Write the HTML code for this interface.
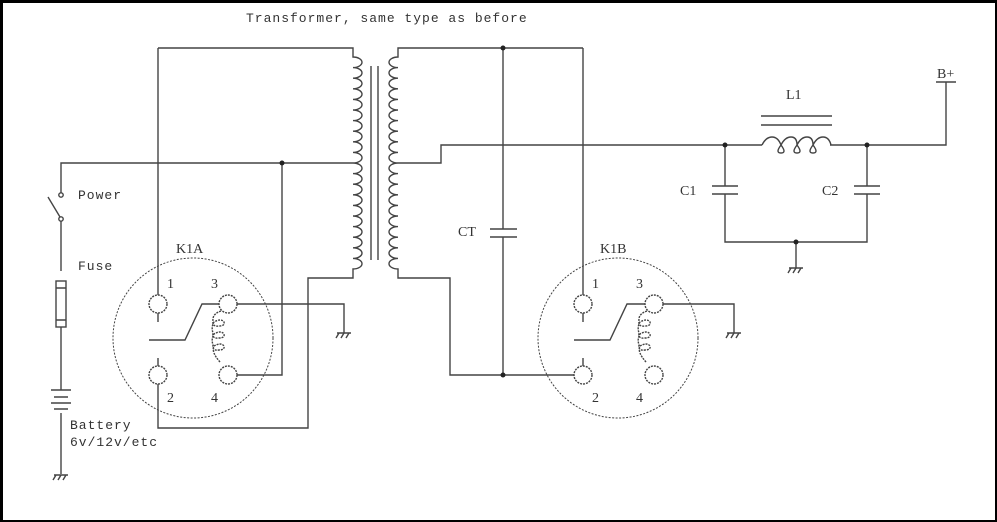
<!DOCTYPE html>
<html><head><meta charset="utf-8"><style>
html,body{margin:0;padding:0;background:#fff}
svg{display:block}
.m{font-family:"Liberation Mono",monospace;font-size:13px;letter-spacing:1px;fill:#333}
.s{font-family:"Liberation Serif",serif;font-size:14px;fill:#333}
</style></head><body>
<svg width="997" height="522" viewBox="0 0 997 522" xmlns="http://www.w3.org/2000/svg">
<rect x="0" y="0" width="997" height="522" fill="#000"/>
<rect x="3" y="3" width="992" height="517" fill="#fff"/>
<g fill="none" stroke="#444" stroke-width="1.4">
<path d="M158 48 H353 V57 a9 5.3 0 0 1 0 10.6 a9 5.3 0 0 1 0 10.6 a9 5.3 0 0 1 0 10.6 a9 5.3 0 0 1 0 10.6 a9 5.3 0 0 1 0 10.6 a9 5.3 0 0 1 0 10.6 a9 5.3 0 0 1 0 10.6 a9 5.3 0 0 1 0 10.6 a9 5.3 0 0 1 0 10.6 a9 5.3 0 0 1 0 10.6 a9 5.3 0 0 1 0 10.6 a9 5.3 0 0 1 0 10.6 a9 5.3 0 0 1 0 10.6 a9 5.3 0 0 1 0 10.6 a9 5.3 0 0 1 0 10.6 a9 5.3 0 0 1 0 10.6 a9 5.3 0 0 1 0 10.6 a9 5.3 0 0 1 0 10.6 a9 5.3 0 0 1 0 10.6 a9 5.3 0 0 1 0 10.6 V278 H308 V428 H158 V384"/>
<path d="M583 48 H398 V57 a9 5.3 0 0 0 0 10.6 a9 5.3 0 0 0 0 10.6 a9 5.3 0 0 0 0 10.6 a9 5.3 0 0 0 0 10.6 a9 5.3 0 0 0 0 10.6 a9 5.3 0 0 0 0 10.6 a9 5.3 0 0 0 0 10.6 a9 5.3 0 0 0 0 10.6 a9 5.3 0 0 0 0 10.6 a9 5.3 0 0 0 0 10.6 a9 5.3 0 0 0 0 10.6 a9 5.3 0 0 0 0 10.6 a9 5.3 0 0 0 0 10.6 a9 5.3 0 0 0 0 10.6 a9 5.3 0 0 0 0 10.6 a9 5.3 0 0 0 0 10.6 a9 5.3 0 0 0 0 10.6 a9 5.3 0 0 0 0 10.6 a9 5.3 0 0 0 0 10.6 a9 5.3 0 0 0 0 10.6 V278 H450 V375 H574"/>
<path d="M371 66 V260 M378 66 V260"/>
<path d="M353 163 H61 V193 M61 221 V271 M61 327 V390 M61 413 V474"/>
<path d="M282 163 V375 H237"/>
<path d="M158 48 V295 M158 313 V322"/>
<path d="M158 358 V366"/>
<circle cx="61" cy="195" r="2.2"/><circle cx="61" cy="219" r="2.2"/>
<path d="M48 197 L60 217"/>
<rect x="56" y="281" width="10" height="46"/><path d="M56 288 H66 M56 320 H66"/>
<path d="M51 390 H71 M54 397 H68 M51 403 H71 M54 409 H68"/>
<path d="M398 163 H441 V145 H762 M830 145 H946 V82 M936 82 H956"/>
<path d="M761 116 H832 M761 125 H832"/>
<path d="M762 145 q4 -8 10 -8 q6 0 9 8 q-6 8 0 8 q6 0 0 -8 q4 -8 10 -8 q6 0 6 8 q-6 8 0 8 q6 0 0 -8 q4 -8 10 -8 q6 0 6 8 q-6 8 0 8 q6 0 0 -8 q4 -8 10 -8 q6 0 8 8"/>
<path d="M725 145 V186 M712 186 H738 M712 194 H738 M725 194 V242 H867 V194 M854 186 H880 M854 194 H880 M867 186 V145"/>
<path d="M796 242 V268 M789 268 H803"/>
<path d="M503 48 V229 M490 229 H517 M490 237 H517 M503 237 V375"/>
<path d="M583 48 V295 M583 313 V322 M583 358 V366"/>
<circle cx="158" cy="304" r="9" stroke-dasharray="2 1"/>
<circle cx="158" cy="375" r="9" stroke-dasharray="2 1"/>
<circle cx="228" cy="304" r="9" stroke-dasharray="2 1"/>
<circle cx="228" cy="375" r="9" stroke-dasharray="2 1"/>
<path d="M149 340 H185 L202 304 H219"/>
<path d="M237 304 H344 V333 M337 333 H351"/>
<path d="M221 311 q-9 3 -8 10 q-1 6 6 5 q6 0 5 -4 q-3 -4 -10 0 q-3 5 -1 11 q-1 6 6 5 q6 0 5 -4 q-3 -4 -10 0 q-3 5 -1 11 q-1 6 6 5 q6 0 5 -4 q-3 -4 -10 0 q-3 6 6 16" stroke-dasharray="2 1"/>
<circle cx="193" cy="338" r="80" stroke-dasharray="2 1.5" stroke-width="1"/>
<circle cx="583" cy="304" r="9" stroke-dasharray="2 1"/>
<circle cx="583" cy="375" r="9" stroke-dasharray="2 1"/>
<circle cx="654" cy="304" r="9" stroke-dasharray="2 1"/>
<circle cx="654" cy="375" r="9" stroke-dasharray="2 1"/>
<path d="M574 340 H610 L627 304 H645"/>
<path d="M663 304 H734 V333 M727 333 H741"/>
<path d="M647 311 q-9 3 -8 10 q-1 6 6 5 q6 0 5 -4 q-3 -4 -10 0 q-3 5 -1 11 q-1 6 6 5 q6 0 5 -4 q-3 -4 -10 0 q-3 5 -1 11 q-1 6 6 5 q6 0 5 -4 q-3 -4 -10 0 q-3 6 6 16" stroke-dasharray="2 1"/>
<circle cx="618" cy="338" r="80" stroke-dasharray="2 1.5" stroke-width="1"/>
<path d="M54 475 H68 M56 475 l-3 5 M61 475 l-3 5 M66 475 l-3 5"/>
<path d="M339 333 l-3 5 M344 333 l-3 5 M349 333 l-3 5"/>
<path d="M729 333 l-3 5 M734 333 l-3 5 M739 333 l-3 5"/>
<path d="M791 268 l-3 5 M796 268 l-3 5 M801 268 l-3 5"/>
</g>
<g fill="#222">
<circle cx="282" cy="163" r="2.5"/><circle cx="503" cy="48" r="2.5"/><circle cx="503" cy="375" r="2.5"/>
<circle cx="725" cy="145" r="2.5"/><circle cx="867" cy="145" r="2.5"/><circle cx="796" cy="242" r="2.5"/>
</g>
<text class="m" x="246" y="22">Transformer, same type as before</text>
<text class="m" x="78" y="199">Power</text>
<text class="m" x="78" y="270">Fuse</text>
<text class="m" x="70" y="429">Battery</text>
<text class="m" x="70" y="446">6v/12v/etc</text>
<text class="s" x="176" y="253">K1A</text>
<text class="s" x="167" y="288">1</text><text class="s" x="211" y="288">3</text>
<text class="s" x="167" y="402">2</text><text class="s" x="211" y="402">4</text>
<text class="s" x="600" y="253">K1B</text>
<text class="s" x="592" y="288">1</text><text class="s" x="636" y="288">3</text>
<text class="s" x="592" y="402">2</text><text class="s" x="636" y="402">4</text>
<text class="s" x="458" y="236">CT</text>
<text class="s" x="680" y="195">C1</text>
<text class="s" x="822" y="195">C2</text>
<text class="s" x="786" y="99">L1</text>
<text class="s" x="937" y="78">B+</text>
</svg>
</body></html>
